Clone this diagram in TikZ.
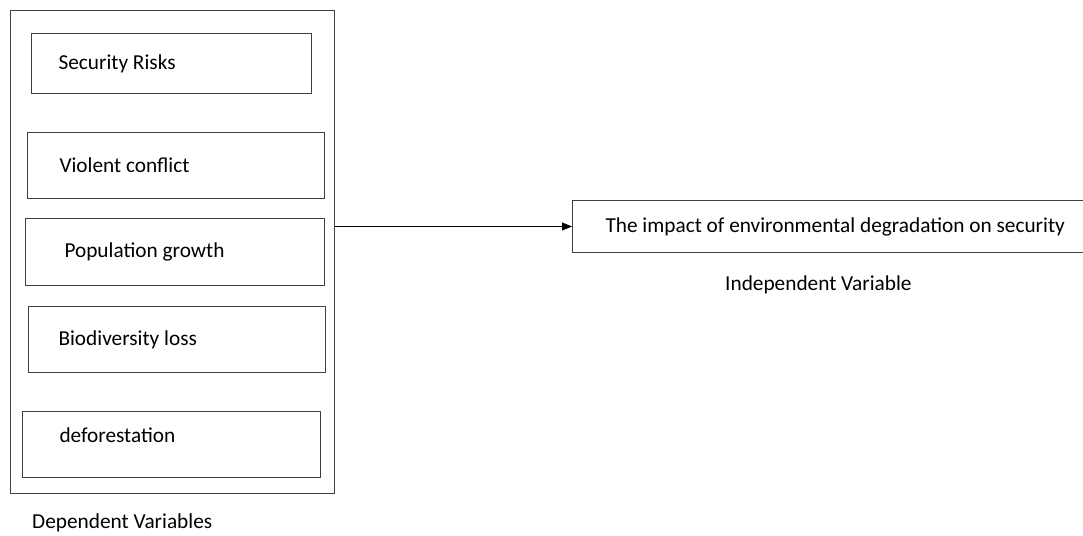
\documentclass[tikz,border=0pt]{standalone}
\usepackage{fontspec}
\setmainfont{Carlito}
\usepackage{tikz}
\usetikzlibrary{arrows.meta}

\begin{document}
\begin{tikzpicture}[x=1pt,y=-1pt,
		font=\fontsize{21.3}{25}\selectfont,
		frame/.style={draw=black!75,line width=1pt,inner ysep=0pt,anchor=north west,align=flush left},
		caption/.style={anchor=west,inner sep=0pt}]
		\useasboundingbox (0,0) rectangle (1083,535);
		\node [frame,minimum width=324,minimum height=483] (deps) at (9.5,10) {}; % outer
		\node [frame,inner xsep=27,text width=226,minimum height=60] (risks) at (31,33) {Security Risks};
		\node [frame,inner xsep=32,text width=233,minimum height=66] (conflict) at (27,132) {Violent conflict};
		\node [frame,inner xsep=39,text width=221,minimum height=67] (growth) at (25,218) {Population growth};
		\node [frame,inner xsep=30,text width=237,minimum height=66] (biodiv) at (28,306) {Biodiversity loss};
		\node [frame,inner xsep=37,text width=224,minimum height=66,text depth=18] (forest) at (22,411) {deforestation};
		\node [frame,inner xsep=33,text width=480,minimum height=52] (impact) at (572,200) {The impact of environmental degradation on security};
		\node [caption] (deplabel) at (32,523) {Dependent Variables};
		\node [caption] (indlabel) at (725,285) {Independent Variable};
		\draw [-{Triangle[length=10pt,width=8pt]},line width=0.9pt] (deps.east |- impact.west) to (impact.west);
\end{tikzpicture}
\end{document}
